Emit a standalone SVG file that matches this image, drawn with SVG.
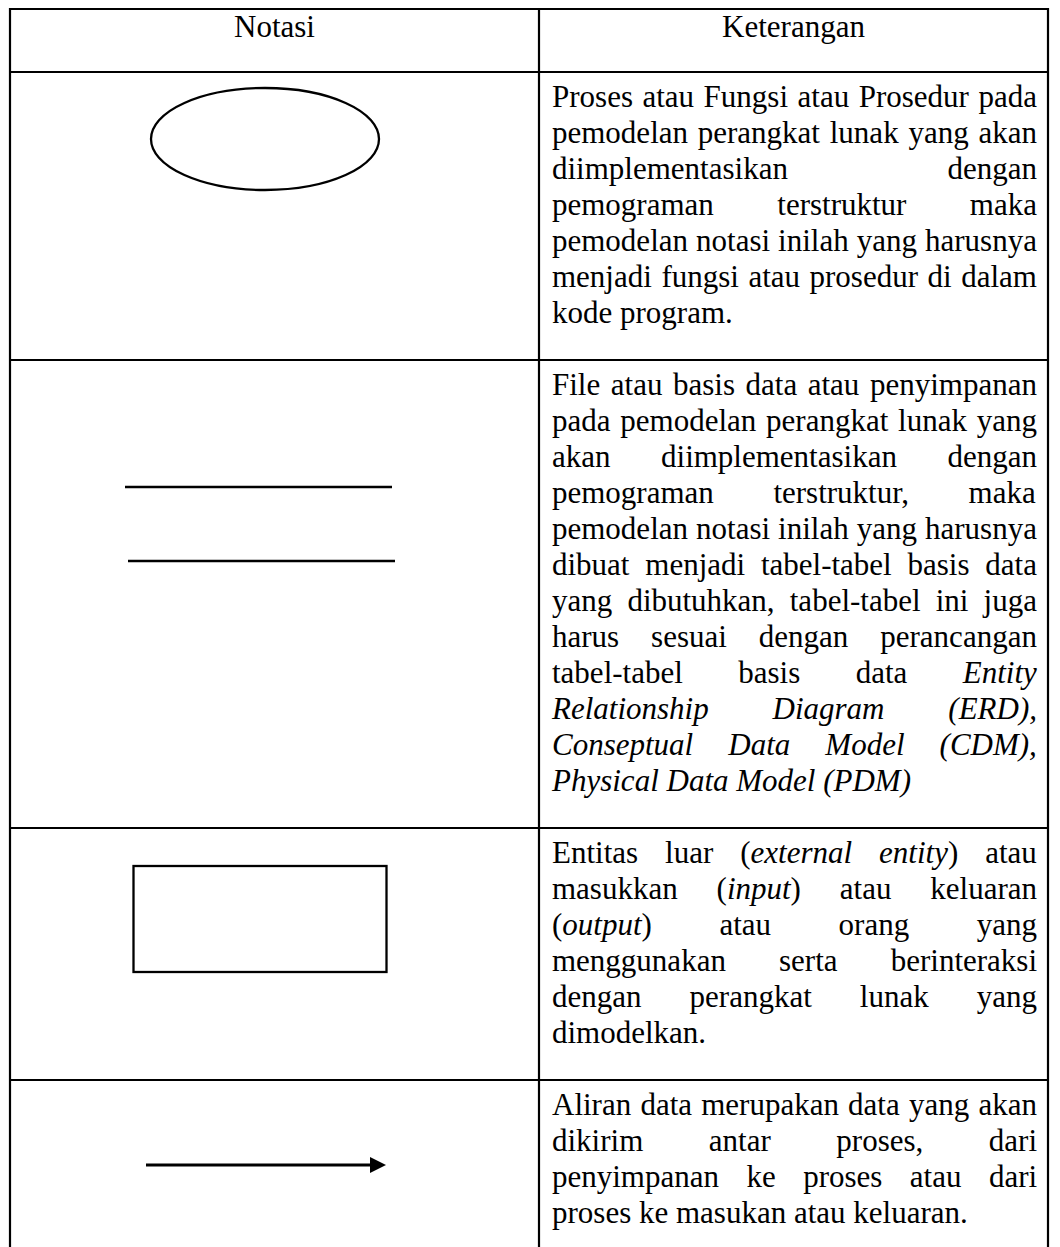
<svg xmlns="http://www.w3.org/2000/svg" width="1060" height="1247" viewBox="0 0 1060 1247">
<style>
.t{font-family:"Liberation Serif","Times New Roman",serif;font-size:31px;fill:#000}
.i{font-style:italic}
.g{fill:none;stroke:#000;stroke-width:2.2}
.s{fill:none;stroke:#000;stroke-width:2.3}
</style>
<rect width="1060" height="1247" fill="#fff"/>
<g id="table">
<path class="g" d="M10,1247 V9 H1048 V1247 M539,9 V1247 M10,72 H1048 M10,360 H1048 M10,828 H1048 M10,1080 H1048"/>
</g>
<g id="header">
<text class="t" x="274.5" y="37" text-anchor="middle">Notasi</text>
<text class="t" x="793.5" y="37" text-anchor="middle">Keterangan</text>
</g>
<g id="node-process">
<ellipse class="s" cx="265" cy="139" rx="114" ry="51"/>
</g>
<g id="node-datastore">
<line class="s" x1="125" y1="487" x2="392" y2="487"/>
<line class="s" x1="128" y1="561" x2="395" y2="561"/>
</g>
<g id="node-entity">
<rect class="s" x="133.5" y="866" width="253" height="106"/>
</g>
<g id="connectors">
<line x1="146" y1="1165" x2="372" y2="1165" stroke="#000" stroke-width="3.2"/>
<path d="M370,1157 L386,1165 L370,1173 z" fill="#000"/>
</g>
<g id="desc-process">
<text class="t" x="552" y="107" word-spacing="1.77">Proses atau Fungsi atau Prosedur pada</text>
<text class="t" x="552" y="143" word-spacing="2.02">pemodelan perangkat lunak yang akan</text>
<text class="t" x="552" y="179" word-spacing="151.8">diimplementasikan dengan</text>
<text class="t" x="552" y="215" word-spacing="55.7">pemograman terstruktur maka</text>
<text class="t" x="552" y="251" word-spacing="0.28">pemodelan notasi inilah yang harusnya</text>
<text class="t" x="552" y="287" word-spacing="1.77">menjadi fungsi atau prosedur di dalam</text>
<text class="t" x="552" y="323">kode program.</text>
</g>
<g id="desc-datastore">
<text class="t" x="552" y="395" word-spacing="2.81">File atau basis data atau penyimpanan</text>
<text class="t" x="552" y="431" word-spacing="2.02">pada pemodelan perangkat lunak yang</text>
<text class="t" x="552" y="467" word-spacing="42.75">akan diimplementasikan dengan</text>
<text class="t" x="552" y="503" word-spacing="51.8">pemograman terstruktur, maka</text>
<text class="t" x="552" y="539" word-spacing="0.28">pemodelan notasi inilah yang harusnya</text>
<text class="t" x="552" y="575" word-spacing="8.03">dibuat menjadi tabel-tabel basis data</text>
<text class="t" x="552" y="611" word-spacing="7.38">yang dibutuhkan, tabel-tabel ini juga</text>
<text class="t" x="552" y="647" word-spacing="24.2">harus sesuai dengan perancangan</text>
<text class="t" x="552" y="683" word-spacing="47.7">tabel-tabel basis data <tspan class="i">Entity</tspan></text>
<text class="t i" x="552" y="719" word-spacing="56.1">Relationship Diagram (ERD),</text>
<text class="t i" x="552" y="755" word-spacing="27.3">Conseptual Data Model (CDM),</text>
<text class="t i" x="552" y="791">Physical Data Model (PDM)</text>
</g>
<g id="desc-entity">
<text class="t" x="552" y="863" word-spacing="19.2">Entitas luar (<tspan class="i">external entity</tspan>) atau</text>
<text class="t" x="552" y="899" word-spacing="31.1">masukkan (<tspan class="i">input</tspan>) atau keluaran</text>
<text class="t" x="552" y="935" word-spacing="59.8">(<tspan class="i">output</tspan>) atau orang yang</text>
<text class="t" x="552" y="971" word-spacing="45.4">menggunakan serta berinteraksi</text>
<text class="t" x="552" y="1007" word-spacing="40.3">dengan perangkat lunak yang</text>
<text class="t" x="552" y="1043">dimodelkan.</text>
</g>
<g id="desc-flow">
<text class="t" x="552" y="1115" word-spacing="1.44">Aliran data merupakan data yang akan</text>
<text class="t" x="552" y="1151" word-spacing="57.8">dikirim antar proses, dari</text>
<text class="t" x="552" y="1187" word-spacing="19.7">penyimpanan ke proses atau dari</text>
<text class="t" x="552" y="1223">proses ke masukan atau keluaran.</text>
</g>
</svg>
